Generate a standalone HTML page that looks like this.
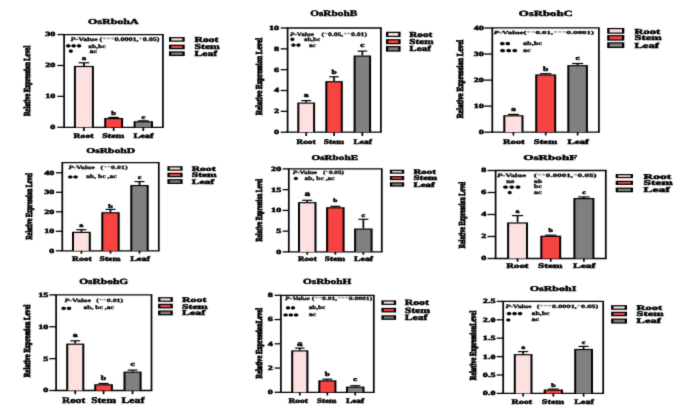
<!DOCTYPE html>
<html><head><meta charset="utf-8"><style>
html,body{margin:0;padding:0;background:#fff;}
svg{display:block;}
text{text-rendering:geometricPrecision;font-family:"Liberation Serif", serif;font-weight:bold;fill:#000;stroke:#000;stroke-width:0.5px;}
</style></head><body>
<svg width="685" height="415" viewBox="0 0 685 415">
<defs><filter id="bl" x="0" y="0" width="685" height="415" filterUnits="userSpaceOnUse" color-interpolation-filters="sRGB"><feConvolveMatrix order="3" kernelMatrix="1 6 1 6 36 6 1 6 1" divisor="64" edgeMode="duplicate"/></filter></defs>
<g filter="url(#bl)">
<rect width="685" height="415" fill="#fff"/>
<text transform="translate(88.00,24.00) scale(1.5,1)" font-size="7.69" textLength="33.80" lengthAdjust="spacingAndGlyphs" style="stroke-width:0.45px">OsRbohA</text>
<path d="M63.24999999999999,34.55 H163.75 M63.24999999999999,127.3 H163.75" fill="none" stroke="#000" stroke-width="1.3"/>
<path d="M64.1,34.55 V127.3 M162.9,34.55 V127.3" fill="none" stroke="#000" stroke-width="1.7"/>
<line x1="57.4" y1="127.30" x2="64.1" y2="127.30" stroke="#000" stroke-width="1.3"/>
<text transform="translate(55.40,129.22) scale(1.5,1)" font-size="6.40" text-anchor="end" textLength="3.37" lengthAdjust="spacingAndGlyphs">0</text>
<line x1="57.4" y1="96.38" x2="64.1" y2="96.38" stroke="#000" stroke-width="1.3"/>
<text transform="translate(55.40,98.30) scale(1.5,1)" font-size="6.40" text-anchor="end" textLength="6.74" lengthAdjust="spacingAndGlyphs">10</text>
<line x1="57.4" y1="65.47" x2="64.1" y2="65.47" stroke="#000" stroke-width="1.3"/>
<text transform="translate(55.40,67.39) scale(1.5,1)" font-size="6.40" text-anchor="end" textLength="6.74" lengthAdjust="spacingAndGlyphs">20</text>
<line x1="57.4" y1="34.55" x2="64.1" y2="34.55" stroke="#000" stroke-width="1.3"/>
<text transform="translate(55.40,36.47) scale(1.5,1)" font-size="6.40" text-anchor="end" textLength="6.74" lengthAdjust="spacingAndGlyphs">30</text>
<text transform="translate(29.77,80.90) scale(1.5,1) rotate(-90)" x="0" y="0" font-size="6.10" text-anchor="middle" textLength="70.20" lengthAdjust="spacingAndGlyphs" style="stroke-width:0.6px">Relative Expression Level</text>
<path d="M83.90,65.90 V62.80" stroke="#000" stroke-width="1.7" fill="none"/>
<path d="M78.50,62.80 H89.30" stroke="#000" stroke-width="1.2" fill="none"/>
<rect x="73.90" y="65.90" width="20.00" height="61.40" fill="#000"/>
<rect x="75.90" y="67.10" width="16.00" height="60.20" fill="#fde0e0"/>
<line x1="83.90" y1="127.3" x2="83.90" y2="131" stroke="#000" stroke-width="1.7"/>
<text transform="translate(83.90,60.33) scale(1.5,1)" font-size="5.80" text-anchor="middle" textLength="2.90" lengthAdjust="spacingAndGlyphs">a</text>
<path d="M113.65,118.00 V117.40" stroke="#000" stroke-width="1.7" fill="none"/>
<path d="M108.55,117.40 H118.75" stroke="#000" stroke-width="1.2" fill="none"/>
<rect x="104.20" y="118.00" width="18.90" height="9.30" fill="#000"/>
<rect x="106.20" y="119.20" width="14.90" height="8.10" fill="#f84343"/>
<line x1="113.65" y1="127.3" x2="113.65" y2="131" stroke="#000" stroke-width="1.7"/>
<text transform="translate(113.65,115.30) scale(1.5,1)" font-size="5.80" text-anchor="middle" textLength="3.23" lengthAdjust="spacingAndGlyphs">b</text>
<path d="M143.30,121.20 V120.80" stroke="#000" stroke-width="1.7" fill="none"/>
<path d="M138.06,120.80 H148.54" stroke="#000" stroke-width="1.2" fill="none"/>
<rect x="133.60" y="121.20" width="19.40" height="6.10" fill="#000"/>
<rect x="135.60" y="122.40" width="15.40" height="4.90" fill="#808080"/>
<line x1="143.30" y1="127.3" x2="143.30" y2="131" stroke="#000" stroke-width="1.7"/>
<text transform="translate(143.30,118.83) scale(1.5,1)" font-size="5.80" text-anchor="middle" textLength="2.57" lengthAdjust="spacingAndGlyphs">c</text>
<text transform="translate(73.50,138.00) scale(1.5,1)" font-size="7.00" textLength="13.33" lengthAdjust="spacingAndGlyphs">Root</text>
<text transform="translate(102.20,138.00) scale(1.5,1)" font-size="7.00" textLength="14.60" lengthAdjust="spacingAndGlyphs">Stem</text>
<text transform="translate(133.60,138.00) scale(1.5,1)" font-size="7.00" textLength="13.13" lengthAdjust="spacingAndGlyphs">Leaf</text>
<text transform="translate(70.50,41.00) scale(1.5,1)" font-size="5.50" textLength="59.33" lengthAdjust="spacingAndGlyphs" style="stroke-width:0.3px"><tspan font-style="italic">P</tspan>-Value (<tspan fill="#777" stroke="none">***</tspan>0.0001,<tspan fill="#777" stroke="none">*</tspan>0.05)</text>
<path d="M68.28,43.95 L67.20,44.44 L66.08,44.88 L66.12,45.80 L66.08,46.72 L67.20,47.16 L68.28,47.65 L69.37,47.16 L70.49,46.73 L70.45,45.80 L70.49,44.88 L69.37,44.44Z" fill="#000"/>
<path d="M73.65,43.95 L72.57,44.44 L71.44,44.88 L71.48,45.80 L71.44,46.72 L72.57,47.16 L73.65,47.65 L74.73,47.16 L75.86,46.73 L75.82,45.80 L75.86,44.88 L74.73,44.44Z" fill="#000"/>
<path d="M79.02,43.95 L77.93,44.44 L76.81,44.88 L76.85,45.80 L76.81,46.72 L77.93,47.16 L79.02,47.65 L80.10,47.16 L81.22,46.73 L81.18,45.80 L81.22,44.88 L80.10,44.44Z" fill="#000"/>
<path d="M70.80,49.35 L69.82,49.84 L68.81,50.28 L68.84,51.20 L68.81,52.12 L69.82,52.56 L70.80,53.05 L71.78,52.56 L72.79,52.13 L72.75,51.20 L72.79,50.28 L71.78,49.84Z" fill="#000"/>
<text transform="translate(88.30,47.60) scale(1.5,1)" font-size="5.50" textLength="11.47" lengthAdjust="spacingAndGlyphs" style="stroke-width:0.3px">ab,bc</text>
<text transform="translate(89.40,52.70) scale(1.5,1)" font-size="5.50" textLength="5.07" lengthAdjust="spacingAndGlyphs" style="stroke-width:0.3px">ac</text>
<rect x="169.00" y="37.05" width="15.70" height="4.70" fill="#000"/>
<rect x="171.30" y="38.30" width="11.10" height="2.20" fill="#fde0e0"/>
<rect x="169.00" y="44.65" width="15.70" height="4.60" fill="#000"/>
<rect x="171.30" y="45.90" width="11.10" height="2.10" fill="#f84343"/>
<rect x="169.00" y="51.35" width="15.70" height="4.70" fill="#000"/>
<rect x="171.30" y="52.60" width="11.10" height="2.20" fill="#808080"/>
<text transform="translate(194.50,42.00) scale(1.5,1)" font-size="7.67" textLength="16.00" lengthAdjust="spacingAndGlyphs">Root</text>
<text transform="translate(194.50,49.30) scale(1.5,1)" font-size="7.67" textLength="16.86" lengthAdjust="spacingAndGlyphs">Stem</text>
<text transform="translate(194.50,56.20) scale(1.5,1)" font-size="7.67" textLength="15.13" lengthAdjust="spacingAndGlyphs">Leaf</text>
<text transform="translate(310.20,16.00) scale(1.5,1)" font-size="8.46" textLength="31.33" lengthAdjust="spacingAndGlyphs" style="stroke-width:0.45px">OsRbohB</text>
<path d="M286.75,28.0 H381.75 M286.75,132.2 H381.75" fill="none" stroke="#000" stroke-width="1.3"/>
<path d="M287.6,28.0 V132.2 M380.9,28.0 V132.2" fill="none" stroke="#000" stroke-width="1.7"/>
<line x1="280.7" y1="132.20" x2="287.6" y2="132.20" stroke="#000" stroke-width="1.3"/>
<text transform="translate(279.00,134.12) scale(1.5,1)" font-size="6.40" text-anchor="end" textLength="3.37" lengthAdjust="spacingAndGlyphs">0</text>
<line x1="280.7" y1="111.36" x2="287.6" y2="111.36" stroke="#000" stroke-width="1.3"/>
<text transform="translate(279.00,113.28) scale(1.5,1)" font-size="6.40" text-anchor="end" textLength="3.37" lengthAdjust="spacingAndGlyphs">2</text>
<line x1="280.7" y1="90.52" x2="287.6" y2="90.52" stroke="#000" stroke-width="1.3"/>
<text transform="translate(279.00,92.44) scale(1.5,1)" font-size="6.40" text-anchor="end" textLength="3.37" lengthAdjust="spacingAndGlyphs">4</text>
<line x1="280.7" y1="69.68" x2="287.6" y2="69.68" stroke="#000" stroke-width="1.3"/>
<text transform="translate(279.00,71.60) scale(1.5,1)" font-size="6.40" text-anchor="end" textLength="3.37" lengthAdjust="spacingAndGlyphs">6</text>
<line x1="280.7" y1="48.84" x2="287.6" y2="48.84" stroke="#000" stroke-width="1.3"/>
<text transform="translate(279.00,50.76) scale(1.5,1)" font-size="6.40" text-anchor="end" textLength="3.37" lengthAdjust="spacingAndGlyphs">8</text>
<line x1="280.7" y1="28.00" x2="287.6" y2="28.00" stroke="#000" stroke-width="1.3"/>
<text transform="translate(279.00,29.92) scale(1.5,1)" font-size="6.40" text-anchor="end" textLength="6.74" lengthAdjust="spacingAndGlyphs">10</text>
<text transform="translate(262.17,76.50) scale(1.5,1) rotate(-90)" x="0" y="0" font-size="6.10" text-anchor="middle" textLength="77.20" lengthAdjust="spacingAndGlyphs" style="stroke-width:0.6px">Relative Expression Level</text>
<path d="M306.20,102.50 V100.60" stroke="#000" stroke-width="1.7" fill="none"/>
<path d="M301.39,100.60 H311.01" stroke="#000" stroke-width="1.2" fill="none"/>
<rect x="297.30" y="102.50" width="17.80" height="29.70" fill="#000"/>
<rect x="299.30" y="103.70" width="13.80" height="28.50" fill="#fde0e0"/>
<line x1="306.20" y1="132.2" x2="306.20" y2="136" stroke="#000" stroke-width="1.7"/>
<text transform="translate(306.20,96.90) scale(1.5,1)" font-size="6.50" text-anchor="middle" textLength="3.25" lengthAdjust="spacingAndGlyphs">a</text>
<path d="M334.05,81.10 V76.80" stroke="#000" stroke-width="1.7" fill="none"/>
<path d="M329.32,76.80 H338.78" stroke="#000" stroke-width="1.2" fill="none"/>
<rect x="325.30" y="81.10" width="17.50" height="51.10" fill="#000"/>
<rect x="327.30" y="82.30" width="13.50" height="49.90" fill="#f84343"/>
<line x1="334.05" y1="132.2" x2="334.05" y2="136" stroke="#000" stroke-width="1.7"/>
<text transform="translate(334.05,73.64) scale(1.5,1)" font-size="6.20" text-anchor="middle" textLength="3.45" lengthAdjust="spacingAndGlyphs">b</text>
<path d="M362.35,55.50 V51.10" stroke="#000" stroke-width="1.7" fill="none"/>
<path d="M357.62,51.10 H367.08" stroke="#000" stroke-width="1.2" fill="none"/>
<rect x="353.60" y="55.50" width="17.50" height="76.70" fill="#000"/>
<rect x="355.60" y="56.70" width="13.50" height="75.50" fill="#808080"/>
<line x1="362.35" y1="132.2" x2="362.35" y2="136" stroke="#000" stroke-width="1.7"/>
<text transform="translate(362.35,46.93) scale(1.5,1)" font-size="6.20" text-anchor="middle" textLength="2.75" lengthAdjust="spacingAndGlyphs">c</text>
<text transform="translate(296.50,144.00) scale(1.5,1)" font-size="7.00" textLength="12.73" lengthAdjust="spacingAndGlyphs">Root</text>
<text transform="translate(323.70,144.00) scale(1.5,1)" font-size="7.00" textLength="13.47" lengthAdjust="spacingAndGlyphs">Stem</text>
<text transform="translate(353.40,144.00) scale(1.5,1)" font-size="7.00" textLength="12.27" lengthAdjust="spacingAndGlyphs">Leaf</text>
<text transform="translate(290.00,35.80) scale(1.5,1)" font-size="5.30" textLength="16.00" lengthAdjust="spacingAndGlyphs" style="stroke-width:0.3px"><tspan font-style="italic">P</tspan>-Value</text>
<text transform="translate(321.50,35.80) scale(1.5,1)" font-size="5.30" textLength="30.33" lengthAdjust="spacingAndGlyphs" style="stroke-width:0.3px">(<tspan fill="#777" stroke="none">*</tspan>0.05,<tspan fill="#777" stroke="none">**</tspan>0.01)</text>
<path d="M292.40,37.45 L291.42,37.94 L290.41,38.38 L290.44,39.30 L290.41,40.22 L291.42,40.66 L292.40,41.15 L293.38,40.66 L294.39,40.23 L294.35,39.30 L294.39,38.38 L293.38,37.94Z" fill="#000"/>
<path d="M293.42,43.25 L292.41,43.74 L291.35,44.17 L291.39,45.10 L291.35,46.02 L292.41,46.46 L293.42,46.95 L294.44,46.46 L295.50,46.03 L295.46,45.10 L295.50,44.18 L294.44,43.74Z" fill="#000"/>
<path d="M298.48,43.25 L297.46,43.74 L296.40,44.17 L296.44,45.10 L296.40,46.02 L297.46,46.46 L298.48,46.95 L299.49,46.46 L300.55,46.03 L300.51,45.10 L300.55,44.18 L299.49,43.74Z" fill="#000"/>
<text transform="translate(304.00,41.20) scale(1.5,1)" font-size="5.50" textLength="10.67" lengthAdjust="spacingAndGlyphs" style="stroke-width:0.3px">ab,bc</text>
<text transform="translate(309.00,46.60) scale(1.5,1)" font-size="5.50" textLength="4.47" lengthAdjust="spacingAndGlyphs" style="stroke-width:0.3px">ac</text>
<rect x="386.00" y="31.75" width="14.60" height="5.30" fill="#000"/>
<rect x="388.30" y="33.00" width="10.00" height="2.80" fill="#fde0e0"/>
<rect x="386.00" y="39.15" width="14.60" height="5.10" fill="#000"/>
<rect x="388.30" y="40.40" width="10.00" height="2.60" fill="#f84343"/>
<rect x="386.00" y="46.05" width="14.60" height="5.60" fill="#000"/>
<rect x="388.30" y="47.30" width="10.00" height="3.10" fill="#808080"/>
<text transform="translate(409.30,37.20) scale(1.5,1)" font-size="7.67" textLength="15.33" lengthAdjust="spacingAndGlyphs">Root</text>
<text transform="translate(409.30,44.10) scale(1.5,1)" font-size="7.67" textLength="16.16" lengthAdjust="spacingAndGlyphs">Stem</text>
<text transform="translate(409.30,51.40) scale(1.5,1)" font-size="7.67" textLength="14.50" lengthAdjust="spacingAndGlyphs">Leaf</text>
<text transform="translate(518.70,15.70) scale(1.5,1)" font-size="7.85" textLength="36.07" lengthAdjust="spacingAndGlyphs" style="stroke-width:0.45px">OsRbohC</text>
<path d="M491.45,27.9 H599.75 M491.45,132.2 H599.75" fill="none" stroke="#000" stroke-width="1.3"/>
<path d="M492.3,27.9 V132.2 M598.9,27.9 V132.2" fill="none" stroke="#000" stroke-width="1.7"/>
<line x1="484.2" y1="132.20" x2="492.3" y2="132.20" stroke="#000" stroke-width="1.3"/>
<text transform="translate(483.80,134.12) scale(1.5,1)" font-size="6.40" text-anchor="end" textLength="3.37" lengthAdjust="spacingAndGlyphs">0</text>
<line x1="484.2" y1="106.15" x2="492.3" y2="106.15" stroke="#000" stroke-width="1.3"/>
<text transform="translate(483.80,108.07) scale(1.5,1)" font-size="6.40" text-anchor="end" textLength="6.74" lengthAdjust="spacingAndGlyphs">10</text>
<line x1="484.2" y1="80.10" x2="492.3" y2="80.10" stroke="#000" stroke-width="1.3"/>
<text transform="translate(483.80,82.02) scale(1.5,1)" font-size="6.40" text-anchor="end" textLength="6.74" lengthAdjust="spacingAndGlyphs">20</text>
<line x1="484.2" y1="54.05" x2="492.3" y2="54.05" stroke="#000" stroke-width="1.3"/>
<text transform="translate(483.80,55.97) scale(1.5,1)" font-size="6.40" text-anchor="end" textLength="6.74" lengthAdjust="spacingAndGlyphs">30</text>
<line x1="484.2" y1="28.00" x2="492.3" y2="28.00" stroke="#000" stroke-width="1.3"/>
<text transform="translate(483.80,29.92) scale(1.5,1)" font-size="6.40" text-anchor="end" textLength="6.74" lengthAdjust="spacingAndGlyphs">40</text>
<text transform="translate(462.67,79.00) scale(1.5,1) rotate(-90)" x="0" y="0" font-size="6.10" text-anchor="middle" textLength="78.60" lengthAdjust="spacingAndGlyphs" style="stroke-width:0.6px">Relative Expression Level</text>
<path d="M513.40,115.20 V114.40" stroke="#000" stroke-width="1.7" fill="none"/>
<path d="M507.95,114.40 H518.85" stroke="#000" stroke-width="1.2" fill="none"/>
<rect x="503.30" y="115.20" width="20.20" height="17.00" fill="#000"/>
<rect x="505.30" y="116.40" width="16.20" height="15.80" fill="#fde0e0"/>
<line x1="513.40" y1="132.2" x2="513.40" y2="135.5" stroke="#000" stroke-width="1.7"/>
<text transform="translate(513.40,111.47) scale(1.5,1)" font-size="6.40" text-anchor="middle" textLength="3.20" lengthAdjust="spacingAndGlyphs">a</text>
<path d="M545.70,74.40 V73.70" stroke="#000" stroke-width="1.7" fill="none"/>
<path d="M540.03,73.70 H551.37" stroke="#000" stroke-width="1.2" fill="none"/>
<rect x="535.20" y="74.40" width="21.00" height="57.80" fill="#000"/>
<rect x="537.20" y="75.60" width="17.00" height="56.60" fill="#f84343"/>
<line x1="545.70" y1="132.2" x2="545.70" y2="135.5" stroke="#000" stroke-width="1.7"/>
<text transform="translate(545.70,70.71) scale(1.5,1)" font-size="6.40" text-anchor="middle" textLength="3.56" lengthAdjust="spacingAndGlyphs">b</text>
<path d="M577.60,65.10 V63.50" stroke="#000" stroke-width="1.7" fill="none"/>
<path d="M572.04,63.50 H583.16" stroke="#000" stroke-width="1.2" fill="none"/>
<rect x="567.30" y="65.10" width="20.60" height="67.10" fill="#000"/>
<rect x="569.30" y="66.30" width="16.60" height="65.90" fill="#808080"/>
<line x1="577.60" y1="132.2" x2="577.60" y2="135.5" stroke="#000" stroke-width="1.7"/>
<text transform="translate(577.60,59.77) scale(1.5,1)" font-size="6.40" text-anchor="middle" textLength="2.84" lengthAdjust="spacingAndGlyphs">c</text>
<text transform="translate(502.90,143.80) scale(1.5,1)" font-size="7.00" textLength="14.47" lengthAdjust="spacingAndGlyphs">Root</text>
<text transform="translate(533.80,143.80) scale(1.5,1)" font-size="7.00" textLength="15.53" lengthAdjust="spacingAndGlyphs">Stem</text>
<text transform="translate(567.40,143.80) scale(1.5,1)" font-size="7.00" textLength="14.20" lengthAdjust="spacingAndGlyphs">Leaf</text>
<text transform="translate(493.70,34.20) scale(1.5,1)" font-size="4.60" textLength="66.87" lengthAdjust="spacingAndGlyphs" style="stroke-width:0.3px"><tspan font-style="italic">P</tspan>-Value(<tspan fill="#777" stroke="none">**</tspan>0.01,<tspan fill="#777" stroke="none">***</tspan>0.0001)</text>
<path d="M502.25,41.85 L501.14,42.34 L499.99,42.78 L500.03,43.70 L499.99,44.62 L501.14,45.06 L502.25,45.55 L503.36,45.06 L504.51,44.63 L504.47,43.70 L504.51,42.78 L503.36,42.34Z" fill="#000"/>
<path d="M507.75,41.85 L506.64,42.34 L505.49,42.78 L505.53,43.70 L505.49,44.62 L506.64,45.06 L507.75,45.55 L508.86,45.06 L510.01,44.63 L509.97,43.70 L510.01,42.78 L508.86,42.34Z" fill="#000"/>
<path d="M502.55,48.85 L501.40,49.34 L500.21,49.78 L500.25,50.70 L500.21,51.62 L501.40,52.06 L502.55,52.55 L503.70,52.06 L504.89,51.63 L504.85,50.70 L504.89,49.78 L503.70,49.34Z" fill="#000"/>
<path d="M508.65,48.85 L507.50,49.34 L506.31,49.78 L506.35,50.70 L506.31,51.62 L507.50,52.06 L508.65,52.55 L509.80,52.06 L510.99,51.63 L510.94,50.70 L510.99,49.78 L509.80,49.34Z" fill="#000"/>
<path d="M514.75,48.85 L513.60,49.34 L512.41,49.78 L512.46,50.70 L512.41,51.62 L513.60,52.06 L514.75,52.55 L515.90,52.06 L517.09,51.63 L517.04,50.70 L517.09,49.78 L515.90,49.34Z" fill="#000"/>
<text transform="translate(522.90,45.10) scale(1.5,1)" font-size="5.50" textLength="12.73" lengthAdjust="spacingAndGlyphs" style="stroke-width:0.3px">ab,bc</text>
<text transform="translate(522.90,52.00) scale(1.5,1)" font-size="5.50" textLength="5.13" lengthAdjust="spacingAndGlyphs" style="stroke-width:0.3px">ac</text>
<rect x="607.20" y="27.95" width="17.10" height="5.80" fill="#000"/>
<rect x="609.50" y="29.20" width="12.50" height="3.30" fill="#fde0e0"/>
<rect x="607.20" y="35.05" width="17.10" height="5.60" fill="#000"/>
<rect x="609.50" y="36.30" width="12.50" height="3.10" fill="#f84343"/>
<rect x="607.20" y="42.25" width="17.10" height="5.80" fill="#000"/>
<rect x="609.50" y="43.50" width="12.50" height="3.30" fill="#808080"/>
<text transform="translate(634.50,33.60) scale(1.5,1)" font-size="7.56" textLength="17.20" lengthAdjust="spacingAndGlyphs">Root</text>
<text transform="translate(634.50,40.40) scale(1.5,1)" font-size="7.56" textLength="18.13" lengthAdjust="spacingAndGlyphs">Stem</text>
<text transform="translate(634.50,47.60) scale(1.5,1)" font-size="7.56" textLength="16.27" lengthAdjust="spacingAndGlyphs">Leaf</text>
<text transform="translate(86.20,152.70) scale(1.5,1)" font-size="7.38" textLength="32.53" lengthAdjust="spacingAndGlyphs" style="stroke-width:0.45px">OsRbohD</text>
<path d="M61.449999999999996,162.7 H159.65 M61.449999999999996,250.8 H159.65" fill="none" stroke="#000" stroke-width="1.3"/>
<path d="M62.3,162.7 V250.8 M158.8,162.7 V250.8" fill="none" stroke="#000" stroke-width="1.7"/>
<line x1="56" y1="250.80" x2="62.3" y2="250.80" stroke="#000" stroke-width="1.3"/>
<text transform="translate(54.30,252.72) scale(1.5,1)" font-size="6.40" text-anchor="end" textLength="3.37" lengthAdjust="spacingAndGlyphs">0</text>
<line x1="56" y1="231.30" x2="62.3" y2="231.30" stroke="#000" stroke-width="1.3"/>
<text transform="translate(54.30,233.22) scale(1.5,1)" font-size="6.40" text-anchor="end" textLength="6.74" lengthAdjust="spacingAndGlyphs">10</text>
<line x1="56" y1="211.80" x2="62.3" y2="211.80" stroke="#000" stroke-width="1.3"/>
<text transform="translate(54.30,213.72) scale(1.5,1)" font-size="6.40" text-anchor="end" textLength="6.74" lengthAdjust="spacingAndGlyphs">20</text>
<line x1="56" y1="192.30" x2="62.3" y2="192.30" stroke="#000" stroke-width="1.3"/>
<text transform="translate(54.30,194.22) scale(1.5,1)" font-size="6.40" text-anchor="end" textLength="6.74" lengthAdjust="spacingAndGlyphs">30</text>
<line x1="56" y1="172.80" x2="62.3" y2="172.80" stroke="#000" stroke-width="1.3"/>
<text transform="translate(54.30,174.72) scale(1.5,1)" font-size="6.40" text-anchor="end" textLength="6.74" lengthAdjust="spacingAndGlyphs">40</text>
<text transform="translate(32.22,206.35) scale(1.5,1) rotate(-90)" x="0" y="0" font-size="6.10" text-anchor="middle" textLength="66.50" lengthAdjust="spacingAndGlyphs" style="stroke-width:0.6px">Relative Expression Level</text>
<path d="M81.40,231.80 V229.70" stroke="#000" stroke-width="1.7" fill="none"/>
<path d="M76.32,229.70 H86.48" stroke="#000" stroke-width="1.2" fill="none"/>
<rect x="72.00" y="231.80" width="18.80" height="19.00" fill="#000"/>
<rect x="74.00" y="233.00" width="14.80" height="17.80" fill="#fde0e0"/>
<line x1="81.40" y1="250.8" x2="81.40" y2="253.7" stroke="#000" stroke-width="1.7"/>
<text transform="translate(81.40,226.56) scale(1.5,1)" font-size="5.50" text-anchor="middle" textLength="2.75" lengthAdjust="spacingAndGlyphs">a</text>
<path d="M110.50,212.20 V209.40" stroke="#000" stroke-width="1.7" fill="none"/>
<path d="M105.53,209.40 H115.47" stroke="#000" stroke-width="1.2" fill="none"/>
<rect x="101.30" y="212.20" width="18.40" height="38.60" fill="#000"/>
<rect x="103.30" y="213.40" width="14.40" height="37.40" fill="#f84343"/>
<line x1="110.50" y1="250.8" x2="110.50" y2="253.7" stroke="#000" stroke-width="1.7"/>
<text transform="translate(110.50,207.80) scale(1.5,1)" font-size="5.50" text-anchor="middle" textLength="3.06" lengthAdjust="spacingAndGlyphs">b</text>
<path d="M139.50,185.00 V181.60" stroke="#000" stroke-width="1.7" fill="none"/>
<path d="M134.53,181.60 H144.47" stroke="#000" stroke-width="1.2" fill="none"/>
<rect x="130.30" y="185.00" width="18.40" height="65.80" fill="#000"/>
<rect x="132.30" y="186.20" width="14.40" height="64.60" fill="#808080"/>
<line x1="139.50" y1="250.8" x2="139.50" y2="253.7" stroke="#000" stroke-width="1.7"/>
<text transform="translate(139.50,178.86) scale(1.5,1)" font-size="5.50" text-anchor="middle" textLength="2.44" lengthAdjust="spacingAndGlyphs">c</text>
<text transform="translate(72.00,261.00) scale(1.5,1)" font-size="7.00" textLength="13.13" lengthAdjust="spacingAndGlyphs">Root</text>
<text transform="translate(99.50,261.00) scale(1.5,1)" font-size="7.00" textLength="14.00" lengthAdjust="spacingAndGlyphs">Stem</text>
<text transform="translate(130.20,261.00) scale(1.5,1)" font-size="7.00" textLength="13.20" lengthAdjust="spacingAndGlyphs">Leaf</text>
<text transform="translate(68.50,169.00) scale(1.5,1)" font-size="5.00" textLength="17.47" lengthAdjust="spacingAndGlyphs" style="stroke-width:0.3px"><tspan font-style="italic">P</tspan>-Value</text>
<text transform="translate(100.60,169.00) scale(1.5,1)" font-size="5.00" textLength="18.00" lengthAdjust="spacingAndGlyphs" style="stroke-width:0.3px">(<tspan fill="#777" stroke="none">**</tspan>0.01)</text>
<path d="M70.33,175.15 L69.27,175.64 L68.17,176.07 L68.21,177.00 L68.17,177.93 L69.27,178.36 L70.33,178.85 L71.38,178.36 L72.48,177.93 L72.44,177.00 L72.48,176.07 L71.38,175.64Z" fill="#000"/>
<path d="M75.58,175.15 L74.52,175.64 L73.42,176.07 L73.46,177.00 L73.42,177.93 L74.52,178.36 L75.58,178.85 L76.63,178.36 L77.73,177.93 L77.69,177.00 L77.73,176.07 L76.63,175.64Z" fill="#000"/>
<text transform="translate(86.00,178.00) scale(1.5,1)" font-size="5.50" textLength="20.40" lengthAdjust="spacingAndGlyphs" style="stroke-width:0.3px">ab, bc ,ac</text>
<rect x="167.40" y="166.25" width="15.20" height="4.50" fill="#000"/>
<rect x="169.70" y="167.50" width="10.60" height="2.00" fill="#fde0e0"/>
<rect x="167.40" y="172.75" width="15.20" height="4.50" fill="#000"/>
<rect x="169.70" y="174.00" width="10.60" height="2.00" fill="#f84343"/>
<rect x="167.40" y="179.15" width="15.20" height="4.80" fill="#000"/>
<rect x="169.70" y="180.40" width="10.60" height="2.30" fill="#808080"/>
<text transform="translate(191.70,170.90) scale(1.5,1)" font-size="6.91" textLength="15.87" lengthAdjust="spacingAndGlyphs">Root</text>
<text transform="translate(191.70,177.30) scale(1.5,1)" font-size="6.91" textLength="16.72" lengthAdjust="spacingAndGlyphs">Stem</text>
<text transform="translate(191.70,183.70) scale(1.5,1)" font-size="6.91" textLength="15.01" lengthAdjust="spacingAndGlyphs">Leaf</text>
<text transform="translate(311.40,159.70) scale(1.5,1)" font-size="7.23" textLength="31.20" lengthAdjust="spacingAndGlyphs" style="stroke-width:0.45px">OsRbohE</text>
<path d="M287.95,168.9 H382.65000000000003 M287.95,251.9 H382.65000000000003" fill="none" stroke="#000" stroke-width="1.3"/>
<path d="M288.8,168.9 V251.9 M381.8,168.9 V251.9" fill="none" stroke="#000" stroke-width="1.7"/>
<line x1="282.7" y1="251.90" x2="288.8" y2="251.90" stroke="#000" stroke-width="1.3"/>
<text transform="translate(281.20,253.82) scale(1.5,1)" font-size="6.40" text-anchor="end" textLength="3.37" lengthAdjust="spacingAndGlyphs">0</text>
<line x1="282.7" y1="231.15" x2="288.8" y2="231.15" stroke="#000" stroke-width="1.3"/>
<text transform="translate(281.20,233.07) scale(1.5,1)" font-size="6.40" text-anchor="end" textLength="3.37" lengthAdjust="spacingAndGlyphs">5</text>
<line x1="282.7" y1="210.40" x2="288.8" y2="210.40" stroke="#000" stroke-width="1.3"/>
<text transform="translate(281.20,212.32) scale(1.5,1)" font-size="6.40" text-anchor="end" textLength="6.74" lengthAdjust="spacingAndGlyphs">10</text>
<line x1="282.7" y1="189.65" x2="288.8" y2="189.65" stroke="#000" stroke-width="1.3"/>
<text transform="translate(281.20,191.57) scale(1.5,1)" font-size="6.40" text-anchor="end" textLength="6.74" lengthAdjust="spacingAndGlyphs">15</text>
<line x1="282.7" y1="168.90" x2="288.8" y2="168.90" stroke="#000" stroke-width="1.3"/>
<text transform="translate(281.20,170.82) scale(1.5,1)" font-size="6.40" text-anchor="end" textLength="6.74" lengthAdjust="spacingAndGlyphs">20</text>
<text transform="translate(261.82,210.25) scale(1.5,1) rotate(-90)" x="0" y="0" font-size="6.10" text-anchor="middle" textLength="62.50" lengthAdjust="spacingAndGlyphs" style="stroke-width:0.6px">Relative Expression Level</text>
<path d="M307.25,202.10 V200.30" stroke="#000" stroke-width="1.7" fill="none"/>
<path d="M302.25,200.30 H312.25" stroke="#000" stroke-width="1.2" fill="none"/>
<rect x="298.00" y="202.10" width="18.50" height="49.80" fill="#000"/>
<rect x="300.00" y="203.30" width="14.50" height="48.60" fill="#fde0e0"/>
<line x1="307.25" y1="251.9" x2="307.25" y2="254.7" stroke="#000" stroke-width="1.7"/>
<text transform="translate(307.25,196.20) scale(1.5,1)" font-size="7.40" text-anchor="middle" textLength="3.70" lengthAdjust="spacingAndGlyphs">a</text>
<path d="M335.35,207.20 V206.30" stroke="#000" stroke-width="1.7" fill="none"/>
<path d="M330.36,206.30 H340.35" stroke="#000" stroke-width="1.2" fill="none"/>
<rect x="326.10" y="207.20" width="18.50" height="44.70" fill="#000"/>
<rect x="328.10" y="208.40" width="14.50" height="43.50" fill="#f84343"/>
<line x1="335.35" y1="251.9" x2="335.35" y2="254.7" stroke="#000" stroke-width="1.7"/>
<text transform="translate(335.35,201.72) scale(1.5,1)" font-size="5.00" text-anchor="middle" textLength="2.78" lengthAdjust="spacingAndGlyphs">b</text>
<path d="M363.35,228.50 V219.30" stroke="#000" stroke-width="1.7" fill="none"/>
<path d="M358.36,219.30 H368.35" stroke="#000" stroke-width="1.2" fill="none"/>
<rect x="354.10" y="228.50" width="18.50" height="23.40" fill="#000"/>
<rect x="356.10" y="229.70" width="14.50" height="22.20" fill="#808080"/>
<line x1="363.35" y1="251.9" x2="363.35" y2="254.7" stroke="#000" stroke-width="1.7"/>
<text transform="translate(363.35,217.14) scale(1.5,1)" font-size="5.40" text-anchor="middle" textLength="2.40" lengthAdjust="spacingAndGlyphs">c</text>
<text transform="translate(298.00,261.40) scale(1.5,1)" font-size="7.00" textLength="12.47" lengthAdjust="spacingAndGlyphs">Root</text>
<text transform="translate(324.80,261.40) scale(1.5,1)" font-size="7.00" textLength="13.53" lengthAdjust="spacingAndGlyphs">Stem</text>
<text transform="translate(354.10,261.40) scale(1.5,1)" font-size="7.00" textLength="12.67" lengthAdjust="spacingAndGlyphs">Leaf</text>
<text transform="translate(292.70,173.60) scale(1.5,1)" font-size="5.00" textLength="16.20" lengthAdjust="spacingAndGlyphs" style="stroke-width:0.3px"><tspan font-style="italic">P</tspan>-Value</text>
<text transform="translate(322.90,173.60) scale(1.5,1)" font-size="5.00" textLength="14.07" lengthAdjust="spacingAndGlyphs" style="stroke-width:0.3px">(<tspan fill="#777" stroke="none">*</tspan>0.05)</text>
<path d="M295.85,176.65 L294.87,177.14 L293.86,177.57 L293.90,178.50 L293.86,179.43 L294.87,179.86 L295.85,180.35 L296.83,179.86 L297.84,179.43 L297.81,178.50 L297.84,177.57 L296.83,177.14Z" fill="#000"/>
<text transform="translate(304.60,179.50) scale(1.5,1)" font-size="5.50" textLength="20.00" lengthAdjust="spacingAndGlyphs" style="stroke-width:0.3px">ab, bc ,ac</text>
<rect x="389.90" y="169.75" width="14.30" height="4.00" fill="#000"/>
<rect x="392.20" y="171.00" width="9.70" height="1.50" fill="#fde0e0"/>
<rect x="389.90" y="176.05" width="14.30" height="4.10" fill="#000"/>
<rect x="392.20" y="177.30" width="9.70" height="1.60" fill="#f84343"/>
<rect x="389.90" y="182.25" width="14.30" height="4.40" fill="#000"/>
<rect x="392.20" y="183.50" width="9.70" height="1.90" fill="#808080"/>
<text transform="translate(413.40,173.80) scale(1.5,1)" font-size="6.91" textLength="15.00" lengthAdjust="spacingAndGlyphs">Root</text>
<text transform="translate(413.40,179.90) scale(1.5,1)" font-size="6.91" textLength="15.81" lengthAdjust="spacingAndGlyphs">Stem</text>
<text transform="translate(413.40,186.60) scale(1.5,1)" font-size="6.91" textLength="14.19" lengthAdjust="spacingAndGlyphs">Leaf</text>
<text transform="translate(523.20,160.20) scale(1.5,1)" font-size="7.38" textLength="36.07" lengthAdjust="spacingAndGlyphs" style="stroke-width:0.45px">OsRbohF</text>
<path d="M494.75,170.5 H606.65 M494.75,258.5 H606.65" fill="none" stroke="#000" stroke-width="1.3"/>
<path d="M495.6,170.5 V258.5 M605.8,170.5 V258.5" fill="none" stroke="#000" stroke-width="1.7"/>
<line x1="487.5" y1="258.50" x2="495.6" y2="258.50" stroke="#000" stroke-width="1.3"/>
<text transform="translate(486.20,260.42) scale(1.5,1)" font-size="6.40" text-anchor="end" textLength="3.37" lengthAdjust="spacingAndGlyphs">0</text>
<line x1="487.5" y1="236.50" x2="495.6" y2="236.50" stroke="#000" stroke-width="1.3"/>
<text transform="translate(486.20,238.42) scale(1.5,1)" font-size="6.40" text-anchor="end" textLength="3.37" lengthAdjust="spacingAndGlyphs">2</text>
<line x1="487.5" y1="214.50" x2="495.6" y2="214.50" stroke="#000" stroke-width="1.3"/>
<text transform="translate(486.20,216.42) scale(1.5,1)" font-size="6.40" text-anchor="end" textLength="3.37" lengthAdjust="spacingAndGlyphs">4</text>
<line x1="487.5" y1="192.50" x2="495.6" y2="192.50" stroke="#000" stroke-width="1.3"/>
<text transform="translate(486.20,194.42) scale(1.5,1)" font-size="6.40" text-anchor="end" textLength="3.37" lengthAdjust="spacingAndGlyphs">6</text>
<line x1="487.5" y1="170.50" x2="495.6" y2="170.50" stroke="#000" stroke-width="1.3"/>
<text transform="translate(486.20,172.42) scale(1.5,1)" font-size="6.40" text-anchor="end" textLength="3.37" lengthAdjust="spacingAndGlyphs">8</text>
<text transform="translate(465.22,214.95) scale(1.5,1) rotate(-90)" x="0" y="0" font-size="6.10" text-anchor="middle" textLength="66.50" lengthAdjust="spacingAndGlyphs" style="stroke-width:0.6px">Relative Expression Level</text>
<path d="M517.55,222.40 V215.60" stroke="#000" stroke-width="1.7" fill="none"/>
<path d="M511.91,215.60 H523.19" stroke="#000" stroke-width="1.2" fill="none"/>
<rect x="507.10" y="222.40" width="20.90" height="36.10" fill="#000"/>
<rect x="509.10" y="223.60" width="16.90" height="34.90" fill="#fde0e0"/>
<line x1="517.55" y1="258.5" x2="517.55" y2="261.7" stroke="#000" stroke-width="1.7"/>
<text transform="translate(517.55,213.02) scale(1.5,1)" font-size="5.30" text-anchor="middle" textLength="2.65" lengthAdjust="spacingAndGlyphs">a</text>
<path d="M550.75,235.70 V235.20" stroke="#000" stroke-width="1.7" fill="none"/>
<path d="M545.11,235.20 H556.39" stroke="#000" stroke-width="1.2" fill="none"/>
<rect x="540.30" y="235.70" width="20.90" height="22.80" fill="#000"/>
<rect x="542.30" y="236.90" width="16.90" height="21.60" fill="#f84343"/>
<line x1="550.75" y1="258.5" x2="550.75" y2="261.7" stroke="#000" stroke-width="1.7"/>
<text transform="translate(550.75,231.63) scale(1.5,1)" font-size="5.30" text-anchor="middle" textLength="2.95" lengthAdjust="spacingAndGlyphs">b</text>
<path d="M583.90,198.00 V196.90" stroke="#000" stroke-width="1.7" fill="none"/>
<path d="M578.23,196.90 H589.57" stroke="#000" stroke-width="1.2" fill="none"/>
<rect x="573.40" y="198.00" width="21.00" height="60.50" fill="#000"/>
<rect x="575.40" y="199.20" width="17.00" height="59.30" fill="#808080"/>
<line x1="583.90" y1="258.5" x2="583.90" y2="261.7" stroke="#000" stroke-width="1.7"/>
<text transform="translate(583.90,194.42) scale(1.5,1)" font-size="5.30" text-anchor="middle" textLength="2.35" lengthAdjust="spacingAndGlyphs">c</text>
<text transform="translate(506.20,268.30) scale(1.5,1)" font-size="7.00" textLength="14.80" lengthAdjust="spacingAndGlyphs">Root</text>
<text transform="translate(537.90,268.30) scale(1.5,1)" font-size="7.00" textLength="16.40" lengthAdjust="spacingAndGlyphs">Stem</text>
<text transform="translate(573.00,268.30) scale(1.5,1)" font-size="7.00" textLength="14.93" lengthAdjust="spacingAndGlyphs">Leaf</text>
<text transform="translate(497.00,177.00) scale(1.5,1)" font-size="5.00" textLength="19.47" lengthAdjust="spacingAndGlyphs" style="stroke-width:0.3px"><tspan font-style="italic">P</tspan>-Value</text>
<text transform="translate(533.80,177.00) scale(1.5,1)" font-size="5.00" textLength="41.80" lengthAdjust="spacingAndGlyphs" style="stroke-width:0.3px">(<tspan fill="#777" stroke="none">**</tspan>0.0001,<tspan fill="#777" stroke="none">*</tspan>0.05)</text>
<path d="M505.52,185.35 L504.37,185.84 L503.18,186.27 L503.22,187.20 L503.18,188.12 L504.37,188.56 L505.52,189.05 L506.66,188.56 L507.85,188.12 L507.81,187.20 L507.85,186.27 L506.66,185.84Z" fill="#000"/>
<path d="M511.75,185.35 L510.60,185.84 L509.41,186.27 L509.45,187.20 L509.41,188.12 L510.60,188.56 L511.75,189.05 L512.90,188.56 L514.09,188.12 L514.04,187.20 L514.09,186.27 L512.90,185.84Z" fill="#000"/>
<path d="M517.98,185.35 L516.84,185.84 L515.65,186.27 L515.69,187.20 L515.65,188.12 L516.84,188.56 L517.98,189.05 L519.13,188.56 L520.32,188.12 L520.28,187.20 L520.32,186.27 L519.13,185.84Z" fill="#000"/>
<path d="M509.70,190.75 L508.72,191.24 L507.71,191.67 L507.75,192.60 L507.71,193.53 L508.72,193.96 L509.70,194.45 L510.68,193.96 L511.69,193.53 L511.65,192.60 L511.69,191.67 L510.68,191.24Z" fill="#000"/>
<text transform="translate(506.20,182.80) scale(1.5,1)" font-size="5.50" textLength="5.53" lengthAdjust="spacingAndGlyphs" style="stroke-width:0.3px">ns</text>
<text transform="translate(533.80,182.80) scale(1.5,1)" font-size="5.50" textLength="5.67" lengthAdjust="spacingAndGlyphs" style="stroke-width:0.3px">ab</text>
<text transform="translate(533.80,187.70) scale(1.5,1)" font-size="5.50" textLength="5.33" lengthAdjust="spacingAndGlyphs" style="stroke-width:0.3px">bc</text>
<text transform="translate(533.80,193.50) scale(1.5,1)" font-size="5.50" textLength="5.33" lengthAdjust="spacingAndGlyphs" style="stroke-width:0.3px">ac</text>
<rect x="615.70" y="174.05" width="17.30" height="4.10" fill="#000"/>
<rect x="618.00" y="175.30" width="12.70" height="1.60" fill="#fde0e0"/>
<rect x="615.70" y="180.75" width="17.30" height="4.20" fill="#000"/>
<rect x="618.00" y="182.00" width="12.70" height="1.70" fill="#f84343"/>
<rect x="615.70" y="187.55" width="17.30" height="4.70" fill="#000"/>
<rect x="618.00" y="188.80" width="12.70" height="2.20" fill="#808080"/>
<text transform="translate(643.60,178.60) scale(1.5,1)" font-size="7.24" textLength="18.47" lengthAdjust="spacingAndGlyphs">Root</text>
<text transform="translate(643.60,185.20) scale(1.5,1)" font-size="7.24" textLength="19.46" lengthAdjust="spacingAndGlyphs">Stem</text>
<text transform="translate(643.60,192.00) scale(1.5,1)" font-size="7.24" textLength="17.47" lengthAdjust="spacingAndGlyphs">Leaf</text>
<text transform="translate(79.20,283.70) scale(1.5,1)" font-size="7.85" textLength="32.67" lengthAdjust="spacingAndGlyphs" style="stroke-width:0.45px">OsRbohG</text>
<path d="M55.25,294.9 H152.35 M55.25,390.5 H152.35" fill="none" stroke="#000" stroke-width="1.3"/>
<path d="M56.1,294.9 V390.5 M151.5,294.9 V390.5" fill="none" stroke="#000" stroke-width="1.7"/>
<line x1="49.3" y1="390.50" x2="56.1" y2="390.50" stroke="#000" stroke-width="1.3"/>
<text transform="translate(48.40,392.42) scale(1.5,1)" font-size="6.40" text-anchor="end" textLength="3.37" lengthAdjust="spacingAndGlyphs">0</text>
<line x1="49.3" y1="358.63" x2="56.1" y2="358.63" stroke="#000" stroke-width="1.3"/>
<text transform="translate(48.40,360.55) scale(1.5,1)" font-size="6.40" text-anchor="end" textLength="3.37" lengthAdjust="spacingAndGlyphs">5</text>
<line x1="49.3" y1="326.77" x2="56.1" y2="326.77" stroke="#000" stroke-width="1.3"/>
<text transform="translate(48.40,328.69) scale(1.5,1)" font-size="6.40" text-anchor="end" textLength="6.74" lengthAdjust="spacingAndGlyphs">10</text>
<line x1="49.3" y1="294.90" x2="56.1" y2="294.90" stroke="#000" stroke-width="1.3"/>
<text transform="translate(48.40,296.82) scale(1.5,1)" font-size="6.40" text-anchor="end" textLength="6.74" lengthAdjust="spacingAndGlyphs">15</text>
<text transform="translate(30.17,340.95) scale(1.5,1) rotate(-90)" x="0" y="0" font-size="6.10" text-anchor="middle" textLength="72.70" lengthAdjust="spacingAndGlyphs" style="stroke-width:0.6px">Relative Expression Level</text>
<path d="M75.25,343.60 V340.80" stroke="#000" stroke-width="1.7" fill="none"/>
<path d="M70.36,340.80 H80.14" stroke="#000" stroke-width="1.2" fill="none"/>
<rect x="66.20" y="343.60" width="18.10" height="46.90" fill="#000"/>
<rect x="68.20" y="344.80" width="14.10" height="45.70" fill="#fde0e0"/>
<line x1="75.25" y1="390.5" x2="75.25" y2="394.2" stroke="#000" stroke-width="1.7"/>
<text transform="translate(75.25,336.50) scale(1.5,1)" font-size="6.50" text-anchor="middle" textLength="3.25" lengthAdjust="spacingAndGlyphs">a</text>
<path d="M103.55,384.20 V383.50" stroke="#000" stroke-width="1.7" fill="none"/>
<path d="M98.50,383.50 H108.60" stroke="#000" stroke-width="1.2" fill="none"/>
<rect x="94.20" y="384.20" width="18.70" height="6.30" fill="#000"/>
<rect x="96.20" y="385.40" width="14.70" height="5.10" fill="#f84343"/>
<line x1="103.55" y1="390.5" x2="103.55" y2="394.2" stroke="#000" stroke-width="1.7"/>
<text transform="translate(103.55,380.14) scale(1.5,1)" font-size="6.50" text-anchor="middle" textLength="3.61" lengthAdjust="spacingAndGlyphs">b</text>
<path d="M132.55,371.60 V370.10" stroke="#000" stroke-width="1.7" fill="none"/>
<path d="M127.66,370.10 H137.44" stroke="#000" stroke-width="1.2" fill="none"/>
<rect x="123.50" y="371.60" width="18.10" height="18.90" fill="#000"/>
<rect x="125.50" y="372.80" width="14.10" height="17.70" fill="#808080"/>
<line x1="132.55" y1="390.5" x2="132.55" y2="394.2" stroke="#000" stroke-width="1.7"/>
<text transform="translate(132.55,366.19) scale(1.5,1)" font-size="6.50" text-anchor="middle" textLength="2.89" lengthAdjust="spacingAndGlyphs">c</text>
<text transform="translate(62.00,402.90) scale(1.5,1)" font-size="8.60" textLength="15.47" lengthAdjust="spacingAndGlyphs">Root</text>
<text transform="translate(91.20,402.90) scale(1.5,1)" font-size="8.60" textLength="16.53" lengthAdjust="spacingAndGlyphs">Stem</text>
<text transform="translate(121.40,402.90) scale(1.5,1)" font-size="8.60" textLength="15.40" lengthAdjust="spacingAndGlyphs">Leaf</text>
<text transform="translate(64.50,301.70) scale(1.5,1)" font-size="5.00" textLength="17.67" lengthAdjust="spacingAndGlyphs" style="stroke-width:0.3px"><tspan font-style="italic">P</tspan>-Value</text>
<text transform="translate(96.30,301.70) scale(1.5,1)" font-size="5.00" textLength="17.87" lengthAdjust="spacingAndGlyphs" style="stroke-width:0.3px">(<tspan fill="#777" stroke="none">**</tspan>0.01)</text>
<path d="M63.67,306.55 L62.59,307.04 L61.47,307.47 L61.51,308.40 L61.47,309.32 L62.59,309.76 L63.67,310.25 L64.76,309.76 L65.88,309.32 L65.84,308.40 L65.88,307.47 L64.76,307.04Z" fill="#000"/>
<path d="M69.03,306.55 L67.94,307.04 L66.82,307.47 L66.86,308.40 L66.82,309.32 L67.94,309.76 L69.03,310.25 L70.11,309.76 L71.23,309.32 L71.19,308.40 L71.23,307.47 L70.11,307.04Z" fill="#000"/>
<text transform="translate(83.50,309.40) scale(1.5,1)" font-size="5.50" textLength="20.20" lengthAdjust="spacingAndGlyphs" style="stroke-width:0.3px">ab, bc ,ac</text>
<rect x="158.10" y="297.15" width="14.70" height="4.70" fill="#000"/>
<rect x="160.40" y="298.40" width="10.10" height="2.20" fill="#fde0e0"/>
<rect x="158.10" y="303.75" width="14.70" height="4.70" fill="#000"/>
<rect x="160.40" y="305.00" width="10.10" height="2.20" fill="#f84343"/>
<rect x="158.10" y="310.45" width="14.70" height="4.90" fill="#000"/>
<rect x="160.40" y="311.70" width="10.10" height="2.40" fill="#808080"/>
<text transform="translate(182.00,302.10) scale(1.5,1)" font-size="7.18" textLength="16.33" lengthAdjust="spacingAndGlyphs">Root</text>
<text transform="translate(182.00,308.50) scale(1.5,1)" font-size="7.18" textLength="17.21" lengthAdjust="spacingAndGlyphs">Stem</text>
<text transform="translate(182.00,315.40) scale(1.5,1)" font-size="7.18" textLength="15.45" lengthAdjust="spacingAndGlyphs">Leaf</text>
<text transform="translate(303.00,283.70) scale(1.5,1)" font-size="7.85" textLength="32.13" lengthAdjust="spacingAndGlyphs" style="stroke-width:0.45px">OsRbohH</text>
<path d="M280.04999999999995,295.3 H374.65000000000003 M280.04999999999995,392.3 H374.65000000000003" fill="none" stroke="#000" stroke-width="1.3"/>
<path d="M280.9,295.3 V392.3 M373.8,295.3 V392.3" fill="none" stroke="#000" stroke-width="1.7"/>
<line x1="274.6" y1="392.30" x2="280.9" y2="392.30" stroke="#000" stroke-width="1.3"/>
<text transform="translate(272.80,394.22) scale(1.5,1)" font-size="6.40" text-anchor="end" textLength="3.37" lengthAdjust="spacingAndGlyphs">0</text>
<line x1="274.6" y1="368.05" x2="280.9" y2="368.05" stroke="#000" stroke-width="1.3"/>
<text transform="translate(272.80,369.97) scale(1.5,1)" font-size="6.40" text-anchor="end" textLength="3.37" lengthAdjust="spacingAndGlyphs">2</text>
<line x1="274.6" y1="343.80" x2="280.9" y2="343.80" stroke="#000" stroke-width="1.3"/>
<text transform="translate(272.80,345.72) scale(1.5,1)" font-size="6.40" text-anchor="end" textLength="3.37" lengthAdjust="spacingAndGlyphs">4</text>
<line x1="274.6" y1="319.55" x2="280.9" y2="319.55" stroke="#000" stroke-width="1.3"/>
<text transform="translate(272.80,321.47) scale(1.5,1)" font-size="6.40" text-anchor="end" textLength="3.37" lengthAdjust="spacingAndGlyphs">6</text>
<line x1="274.6" y1="295.30" x2="280.9" y2="295.30" stroke="#000" stroke-width="1.3"/>
<text transform="translate(272.80,297.22) scale(1.5,1)" font-size="6.40" text-anchor="end" textLength="3.37" lengthAdjust="spacingAndGlyphs">8</text>
<text transform="translate(261.87,343.30) scale(1.5,1) rotate(-90)" x="0" y="0" font-size="6.10" text-anchor="middle" textLength="70.60" lengthAdjust="spacingAndGlyphs" style="stroke-width:0.6px">Relative ExpressionLevel</text>
<path d="M299.80,350.30 V348.10" stroke="#000" stroke-width="1.7" fill="none"/>
<path d="M295.16,348.10 H304.44" stroke="#000" stroke-width="1.2" fill="none"/>
<rect x="291.20" y="350.30" width="17.20" height="42.00" fill="#000"/>
<rect x="293.20" y="351.50" width="13.20" height="40.80" fill="#fde0e0"/>
<line x1="299.80" y1="392.3" x2="299.80" y2="395.5" stroke="#000" stroke-width="1.7"/>
<text transform="translate(299.80,346.23) scale(1.5,1)" font-size="7.50" text-anchor="middle" textLength="3.75" lengthAdjust="spacingAndGlyphs">a</text>
<path d="M327.35,380.30 V379.20" stroke="#000" stroke-width="1.7" fill="none"/>
<path d="M322.46,379.20 H332.24" stroke="#000" stroke-width="1.2" fill="none"/>
<rect x="318.30" y="380.30" width="18.10" height="12.00" fill="#000"/>
<rect x="320.30" y="381.50" width="14.10" height="10.80" fill="#f84343"/>
<line x1="327.35" y1="392.3" x2="327.35" y2="395.5" stroke="#000" stroke-width="1.7"/>
<text transform="translate(327.35,375.87) scale(1.5,1)" font-size="6.00" text-anchor="middle" textLength="3.34" lengthAdjust="spacingAndGlyphs">b</text>
<path d="M355.25,386.60 V385.70" stroke="#000" stroke-width="1.7" fill="none"/>
<path d="M350.25,385.70 H360.25" stroke="#000" stroke-width="1.2" fill="none"/>
<rect x="346.00" y="386.60" width="18.50" height="5.70" fill="#000"/>
<rect x="348.00" y="387.80" width="14.50" height="4.50" fill="#808080"/>
<line x1="355.25" y1="392.3" x2="355.25" y2="395.5" stroke="#000" stroke-width="1.7"/>
<text transform="translate(355.25,381.38) scale(1.5,1)" font-size="6.00" text-anchor="middle" textLength="2.66" lengthAdjust="spacingAndGlyphs">c</text>
<text transform="translate(288.50,403.20) scale(1.5,1)" font-size="7.00" textLength="13.00" lengthAdjust="spacingAndGlyphs">Root</text>
<text transform="translate(317.00,403.20) scale(1.5,1)" font-size="7.00" textLength="12.93" lengthAdjust="spacingAndGlyphs">Stem</text>
<text transform="translate(346.00,403.20) scale(1.5,1)" font-size="7.00" textLength="12.07" lengthAdjust="spacingAndGlyphs">Leaf</text>
<text transform="translate(285.00,300.40) scale(1.5,1)" font-size="5.00" textLength="58.13" lengthAdjust="spacingAndGlyphs" style="stroke-width:0.3px"><tspan font-style="italic">P-Value</tspan> (<tspan fill="#777" stroke="none">**</tspan>0.01,<tspan fill="#777" stroke="none">***</tspan>0.0001)</text>
<path d="M288.00,305.95 L286.99,306.44 L285.94,306.88 L285.98,307.80 L285.94,308.73 L286.99,309.16 L288.00,309.65 L289.01,309.16 L290.06,308.73 L290.02,307.80 L290.06,306.88 L289.01,306.44Z" fill="#000"/>
<path d="M293.00,305.95 L291.99,306.44 L290.94,306.88 L290.98,307.80 L290.94,308.73 L291.99,309.16 L293.00,309.65 L294.01,309.16 L295.06,308.73 L295.02,307.80 L295.06,306.88 L294.01,306.44Z" fill="#000"/>
<path d="M285.62,313.15 L284.56,313.64 L283.46,314.07 L283.50,315.00 L283.46,315.93 L284.56,316.36 L285.62,316.85 L286.67,316.36 L287.77,315.93 L287.73,315.00 L287.77,314.07 L286.67,313.64Z" fill="#000"/>
<path d="M290.85,313.15 L289.79,313.64 L288.70,314.07 L288.74,315.00 L288.70,315.93 L289.79,316.36 L290.85,316.85 L291.91,316.36 L293.00,315.93 L292.96,315.00 L293.00,314.07 L291.91,313.64Z" fill="#000"/>
<path d="M296.08,313.15 L295.03,313.64 L293.93,314.07 L293.97,315.00 L293.93,315.93 L295.03,316.36 L296.08,316.85 L297.14,316.36 L298.24,315.93 L298.20,315.00 L298.24,314.07 L297.14,313.64Z" fill="#000"/>
<text transform="translate(308.70,309.20) scale(1.5,1)" font-size="5.50" textLength="11.00" lengthAdjust="spacingAndGlyphs" style="stroke-width:0.3px">ab,bc</text>
<text transform="translate(308.70,316.10) scale(1.5,1)" font-size="5.50" textLength="4.87" lengthAdjust="spacingAndGlyphs" style="stroke-width:0.3px">ac</text>
<rect x="381.40" y="300.35" width="14.70" height="4.60" fill="#000"/>
<rect x="383.70" y="301.60" width="10.10" height="2.10" fill="#fde0e0"/>
<rect x="381.40" y="307.85" width="14.70" height="4.60" fill="#000"/>
<rect x="383.70" y="309.10" width="10.10" height="2.10" fill="#f84343"/>
<rect x="381.40" y="315.25" width="14.70" height="4.60" fill="#000"/>
<rect x="383.70" y="316.50" width="10.10" height="2.10" fill="#808080"/>
<text transform="translate(404.70,305.30) scale(1.5,1)" font-size="8.15" textLength="16.07" lengthAdjust="spacingAndGlyphs">Root</text>
<text transform="translate(404.70,312.80) scale(1.5,1)" font-size="8.15" textLength="16.93" lengthAdjust="spacingAndGlyphs">Stem</text>
<text transform="translate(404.70,320.40) scale(1.5,1)" font-size="8.15" textLength="15.20" lengthAdjust="spacingAndGlyphs">Leaf</text>
<text transform="translate(529.70,291.00) scale(1.5,1)" font-size="7.38" textLength="31.13" lengthAdjust="spacingAndGlyphs" style="stroke-width:0.45px">OsRbohI</text>
<path d="M502.34999999999997,301.4 H604.0500000000001 M502.34999999999997,393.4 H604.0500000000001" fill="none" stroke="#000" stroke-width="1.3"/>
<path d="M503.2,301.4 V393.4 M603.2,301.4 V393.4" fill="none" stroke="#000" stroke-width="1.7"/>
<line x1="496.7" y1="393.40" x2="503.2" y2="393.40" stroke="#000" stroke-width="1.3"/>
<text transform="translate(495.50,395.32) scale(1.5,1)" font-size="6.40" text-anchor="end" textLength="8.43" lengthAdjust="spacingAndGlyphs">0.0</text>
<line x1="496.7" y1="375.00" x2="503.2" y2="375.00" stroke="#000" stroke-width="1.3"/>
<text transform="translate(495.50,376.92) scale(1.5,1)" font-size="6.40" text-anchor="end" textLength="8.43" lengthAdjust="spacingAndGlyphs">0.5</text>
<line x1="496.7" y1="356.60" x2="503.2" y2="356.60" stroke="#000" stroke-width="1.3"/>
<text transform="translate(495.50,358.52) scale(1.5,1)" font-size="6.40" text-anchor="end" textLength="8.43" lengthAdjust="spacingAndGlyphs">1.0</text>
<line x1="496.7" y1="338.20" x2="503.2" y2="338.20" stroke="#000" stroke-width="1.3"/>
<text transform="translate(495.50,340.12) scale(1.5,1)" font-size="6.40" text-anchor="end" textLength="8.43" lengthAdjust="spacingAndGlyphs">1.5</text>
<line x1="496.7" y1="319.80" x2="503.2" y2="319.80" stroke="#000" stroke-width="1.3"/>
<text transform="translate(495.50,321.72) scale(1.5,1)" font-size="6.40" text-anchor="end" textLength="8.43" lengthAdjust="spacingAndGlyphs">2.0</text>
<line x1="496.7" y1="301.40" x2="503.2" y2="301.40" stroke="#000" stroke-width="1.3"/>
<text transform="translate(495.50,303.32) scale(1.5,1)" font-size="6.40" text-anchor="end" textLength="8.43" lengthAdjust="spacingAndGlyphs">2.5</text>
<text transform="translate(475.97,345.50) scale(1.5,1) rotate(-90)" x="0" y="0" font-size="6.10" text-anchor="middle" textLength="69.40" lengthAdjust="spacingAndGlyphs" style="stroke-width:0.6px">Relative ExpressionLevel</text>
<path d="M523.15,354.10 V351.60" stroke="#000" stroke-width="1.7" fill="none"/>
<path d="M518.10,351.60 H528.20" stroke="#000" stroke-width="1.2" fill="none"/>
<rect x="513.80" y="354.10" width="18.70" height="39.30" fill="#000"/>
<rect x="515.80" y="355.30" width="14.70" height="38.10" fill="#fde0e0"/>
<line x1="523.15" y1="393.4" x2="523.15" y2="396.6" stroke="#000" stroke-width="1.7"/>
<text transform="translate(523.15,349.22) scale(1.5,1)" font-size="5.30" text-anchor="middle" textLength="2.65" lengthAdjust="spacingAndGlyphs">a</text>
<path d="M553.35,389.50 V389.10" stroke="#000" stroke-width="1.7" fill="none"/>
<path d="M548.14,389.10 H558.56" stroke="#000" stroke-width="1.2" fill="none"/>
<rect x="543.70" y="389.50" width="19.30" height="3.90" fill="#000"/>
<rect x="545.70" y="390.70" width="15.30" height="2.70" fill="#f84343"/>
<line x1="553.35" y1="393.4" x2="553.35" y2="396.6" stroke="#000" stroke-width="1.7"/>
<text transform="translate(553.35,386.83) scale(1.5,1)" font-size="5.30" text-anchor="middle" textLength="2.95" lengthAdjust="spacingAndGlyphs">b</text>
<path d="M583.60,348.90 V346.40" stroke="#000" stroke-width="1.7" fill="none"/>
<path d="M578.52,346.40 H588.68" stroke="#000" stroke-width="1.2" fill="none"/>
<rect x="574.20" y="348.90" width="18.80" height="44.50" fill="#000"/>
<rect x="576.20" y="350.10" width="14.80" height="43.30" fill="#808080"/>
<line x1="583.60" y1="393.4" x2="583.60" y2="396.6" stroke="#000" stroke-width="1.7"/>
<text transform="translate(583.60,343.72) scale(1.5,1)" font-size="5.30" text-anchor="middle" textLength="2.35" lengthAdjust="spacingAndGlyphs">c</text>
<text transform="translate(511.50,404.00) scale(1.5,1)" font-size="7.00" textLength="13.73" lengthAdjust="spacingAndGlyphs">Root</text>
<text transform="translate(541.80,404.00) scale(1.5,1)" font-size="7.00" textLength="14.80" lengthAdjust="spacingAndGlyphs">Stem</text>
<text transform="translate(574.20,404.00) scale(1.5,1)" font-size="7.00" textLength="13.13" lengthAdjust="spacingAndGlyphs">Leaf</text>
<text transform="translate(505.50,307.50) scale(1.5,1)" font-size="5.00" textLength="17.33" lengthAdjust="spacingAndGlyphs" style="stroke-width:0.3px"><tspan font-style="italic">P</tspan>-Value</text>
<text transform="translate(536.80,307.50) scale(1.5,1)" font-size="5.00" textLength="41.00" lengthAdjust="spacingAndGlyphs" style="stroke-width:0.3px">(<tspan fill="#777" stroke="none">***</tspan>0.0001,<tspan fill="#777" stroke="none">*</tspan>0.05)</text>
<path d="M509.05,311.75 L507.94,312.24 L506.79,312.68 L506.83,313.60 L506.79,314.53 L507.94,314.96 L509.05,315.45 L510.16,314.96 L511.31,314.53 L511.27,313.60 L511.31,312.68 L510.16,312.24Z" fill="#000"/>
<path d="M514.55,311.75 L513.44,312.24 L512.29,312.68 L512.33,313.60 L512.29,314.53 L513.44,314.96 L514.55,315.45 L515.66,314.96 L516.81,314.53 L516.77,313.60 L516.81,312.68 L515.66,312.24Z" fill="#000"/>
<path d="M520.05,311.75 L518.94,312.24 L517.79,312.68 L517.83,313.60 L517.79,314.53 L518.94,314.96 L520.05,315.45 L521.16,314.96 L522.31,314.53 L522.27,313.60 L522.31,312.68 L521.16,312.24Z" fill="#000"/>
<path d="M508.30,318.15 L507.32,318.64 L506.31,319.07 L506.35,320.00 L506.31,320.93 L507.32,321.36 L508.30,321.85 L509.28,321.36 L510.29,320.93 L510.25,320.00 L510.29,319.07 L509.28,318.64Z" fill="#000"/>
<text transform="translate(531.50,314.70) scale(1.5,1)" font-size="5.50" textLength="12.07" lengthAdjust="spacingAndGlyphs" style="stroke-width:0.3px">ab,bc</text>
<text transform="translate(531.50,321.10) scale(1.5,1)" font-size="5.50" textLength="5.13" lengthAdjust="spacingAndGlyphs" style="stroke-width:0.3px">ac</text>
<rect x="611.10" y="305.15" width="15.90" height="4.70" fill="#000"/>
<rect x="613.40" y="306.40" width="11.30" height="2.20" fill="#fde0e0"/>
<rect x="611.10" y="311.75" width="15.90" height="4.50" fill="#000"/>
<rect x="613.40" y="313.00" width="11.30" height="2.00" fill="#f84343"/>
<rect x="611.10" y="318.55" width="15.90" height="5.00" fill="#000"/>
<rect x="613.40" y="319.80" width="11.30" height="2.50" fill="#808080"/>
<text transform="translate(636.60,310.00) scale(1.5,1)" font-size="7.18" textLength="17.07" lengthAdjust="spacingAndGlyphs">Root</text>
<text transform="translate(636.60,316.40) scale(1.5,1)" font-size="7.18" textLength="17.99" lengthAdjust="spacingAndGlyphs">Stem</text>
<text transform="translate(636.60,323.30) scale(1.5,1)" font-size="7.18" textLength="16.14" lengthAdjust="spacingAndGlyphs">Leaf</text>
</g>
</svg>
</body></html>
